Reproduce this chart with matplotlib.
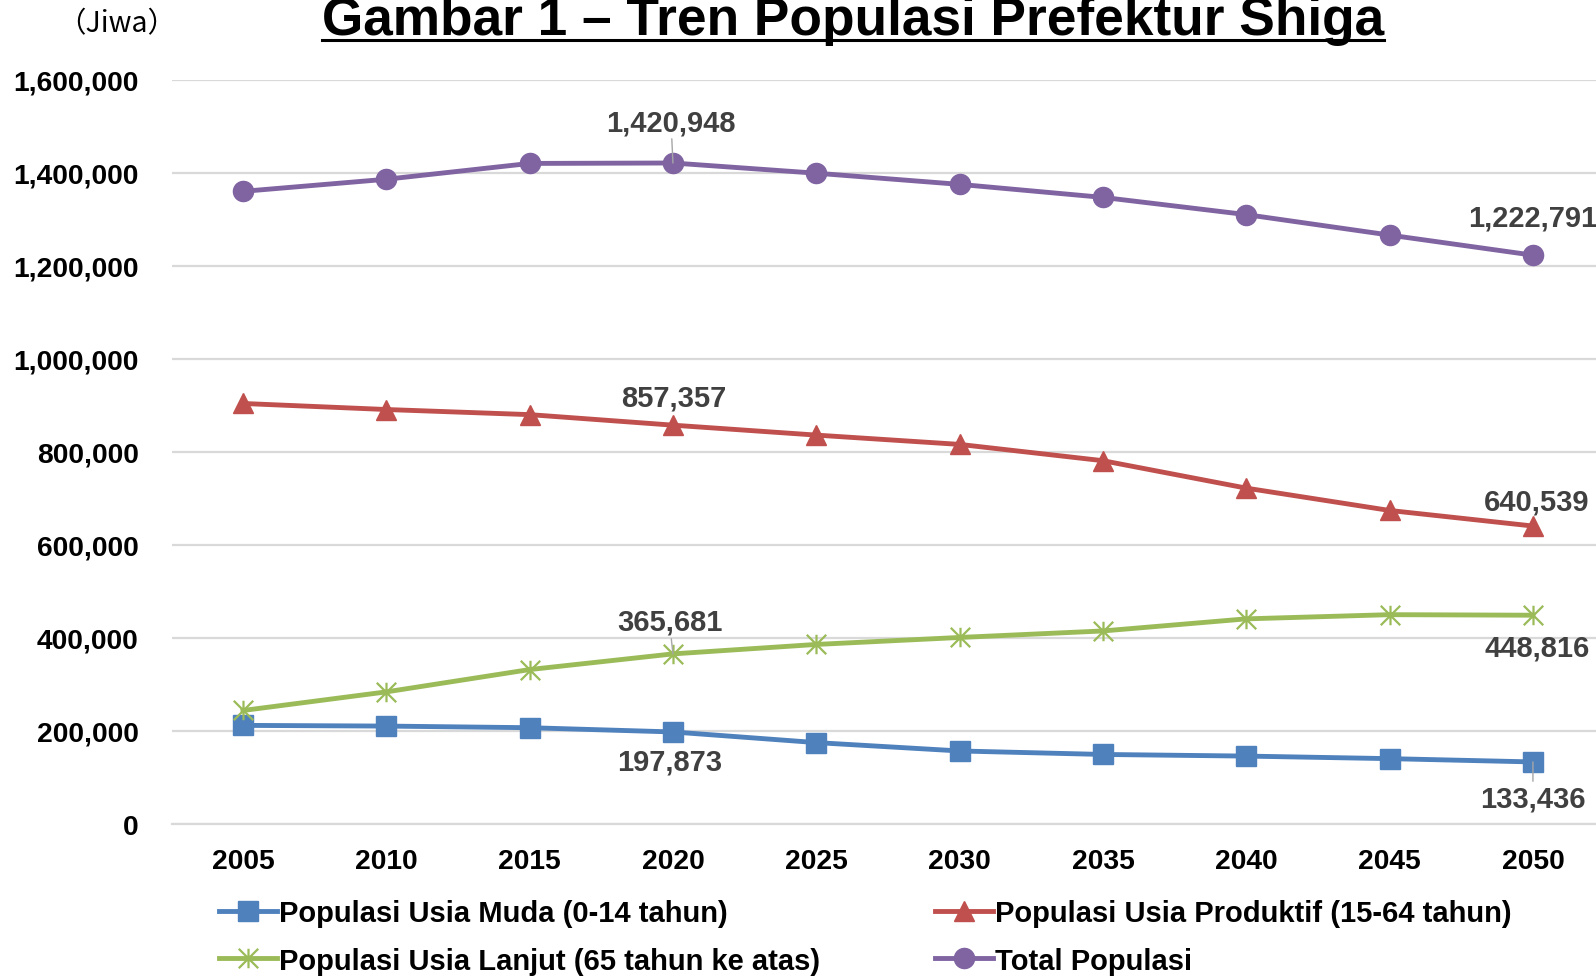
import matplotlib
matplotlib.use("Agg")
import matplotlib.pyplot as plt
from matplotlib.path import Path
from matplotlib.lines import Line2D

plt.rcParams['font.family'] = ['Liberation Sans', 'DejaVu Sans']

years = ['2005', '2010', '2015', '2020', '2025', '2030', '2035', '2040', '2045', '2050']
muda = [212000, 210500, 207000, 197873, 175000, 157000, 149500, 146000, 140500, 133436]
produktif = [904000, 891000, 880000, 857357, 836000, 816000, 781000, 722000, 674000, 640539]
lanjut = [244000, 284000, 332000, 365681, 386000, 401000, 415000, 441000, 450000, 448816]
total = [1360000, 1386000, 1420000, 1420948, 1399000, 1375000, 1347000, 1310000, 1266000, 1222791]

series_names = ['Populasi Usia Muda (0-14 tahun)', 'Populasi Usia Produktif (15-64 tahun)',
                'Populasi Usia Lanjut (65 tahun ke atas)', 'Total Populasi']
yticks = [0, 200000, 400000, 600000, 800000, 1000000, 1200000, 1400000, 1600000]

W, H = 1596, 978
fig = plt.figure(figsize=(W / 100, H / 100), dpi=100)
ax = fig.add_axes([172 / W, 1 - 825 / H, (W - 172) / W, (825 - 80.7) / H])

x = list(range(len(years)))
star = Path([(0, -1), (0, 1), (-1, -1), (1, 1), (-1, 1), (1, -1)],
            [Path.MOVETO, Path.LINETO, Path.MOVETO, Path.LINETO, Path.MOVETO, Path.LINETO])

lw = 3.5
ms = 14
h1, = ax.plot(x, muda, color='#4F81BD', lw=lw, marker='s', ms=ms, label=series_names[0], zorder=3)
h2, = ax.plot(x, produktif, color='#C0504D', lw=lw, marker='^', ms=ms, label=series_names[1], zorder=3)
h3, = ax.plot(x, lanjut, color='#9BBB59', lw=lw, marker=star, ms=ms, mew=1.6, fillstyle='none',
              label=series_names[2], zorder=3)
h4, = ax.plot(x, total, color='#8064A2', lw=lw, marker='o', ms=ms + 0.5, label=series_names[3], zorder=3)

ax.set_xlim(-0.495, 9.44)
ax.set_ylim(0, 1600000)
ax.set_yticks(yticks)
ax.set_yticklabels([f'{v:,}' for v in yticks])
ax.set_xticks(x)
ax.set_xticklabels(years)
ax.grid(axis='y', color='#D9D9D9', lw=1.6)
ax.set_axisbelow(True)
for s in ['top', 'right', 'left']:
    ax.spines[s].set_visible(False)
ax.spines['bottom'].set_color('#D9D9D9')
ax.spines['bottom'].set_linewidth(1.6)
ax.tick_params(axis='both', length=0, labelsize=20.3)
ax.tick_params(axis='y', pad=24)
ax.tick_params(axis='x', pad=17)
for t in ax.get_xticklabels() + ax.get_yticklabels():
    t.set_fontweight('bold')
    t.set_color('black')

lab = dict(fontsize=21, fontweight='bold', color='#404040', ha='center', va='center',
           textcoords='offset points')
lead = dict(arrowstyle='-', color='#A6A6A6', lw=1, shrinkA=0, shrinkB=0)
ax.annotate(f'{total[3]:,}', (3, total[3]), xytext=(-1.4, 29.5), arrowprops=lead, **lab)
ax.annotate(f'{produktif[3]:,}', (3, produktif[3]), xytext=(0.7, 19.6), **lab)
ax.annotate(f'{lanjut[3]:,}', (3, lanjut[3]), xytext=(-2.5, 23), arrowprops=lead, **lab)
ax.annotate(f'{muda[3]:,}', (3, muda[3]), xytext=(-2.2, -21.6), **lab)
ax.annotate(f'{total[9]:,}', (9, total[9]), xytext=(0, 26.9), **lab)
ax.annotate(f'{produktif[9]:,}', (9, produktif[9]), xytext=(2.9, 18), **lab)
ax.annotate(f'{lanjut[9]:,}', (9, lanjut[9]), xytext=(2.9, -23.6), **lab)
ax.annotate(f'{muda[9]:,}', (9, muda[9]), xytext=(0, -26), arrowprops=lead, **lab)

handles = [h1, h3, h2, h4]
leg = fig.legend(handles=handles, labels=[h.get_label() for h in handles],
                 loc='center left', bbox_to_anchor=(219 / W, 1 - 938 / H), ncol=2,
                 frameon=False, borderpad=0, borderaxespad=0, handlelength=2.0,
                 handletextpad=0.05, columnspacing=3.95, labelspacing=0.66,
                 prop={'size': 21, 'weight': 'bold'})

fig.text(117 / W, 1 - 24 / H, '（Jiwa）', fontsize=20.5, ha='center', va='center',
         family=['Noto Sans CJK JP', 'DejaVu Sans'])

title = fig.text(853 / W, 1 - 35 / H, 'Gambar 1 – Tren Populasi Prefektur Shiga',
                 fontsize=38.3, fontweight='bold', ha='center', va='baseline', color='black')
fig.canvas.draw()
bb = title.get_window_extent()
fig.add_artist(Line2D([bb.x0 / W, bb.x1 / W], [1 - 41 / H, 1 - 41 / H],
                      transform=fig.transFigure, color='black', lw=2.2))

fig.savefig('out.png', dpi=100)
